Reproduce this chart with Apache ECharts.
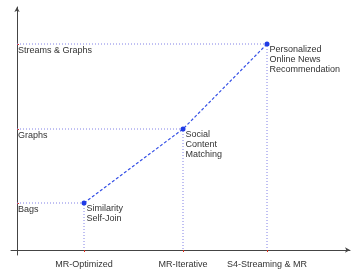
<!DOCTYPE html>
<html><head><meta charset="utf-8">
<script src="https://cdn.jsdelivr.net/npm/echarts@6/dist/echarts.min.js"></script>
<style>html,body{margin:0;padding:0;background:#fff}#c{width:353px;height:272px}</style>
</head><body><div id="c"></div>
<script>
var xCategories = ['MR-Optimized', 'MR-Iterative', 'S4-Streaming & MR'];
var xPositions = [0.67, 1.66, 2.50];
var yCategories = ['Bags', 'Graphs', 'Streams & Graphs'];
var yPositions = [0.47, 1.21, 2.06];
var pointLabels = ['Similarity\nSelf-Join', 'Social\nContent\nMatching', 'Personalized\nOnline News\nRecommendation'];

var FONT = 'Liberation Sans';
function nearestName(v, pos, names) {
  var best = 0;
  for (var i = 1; i < pos.length; i++) if (Math.abs(pos[i] - v) < Math.abs(pos[best] - v)) best = i;
  return names[best];
}

var series = [];
for (var i = 0; i < xPositions.length; i++) {
  series.push({
    type: 'line', silent: true, symbol: 'none', z: 1,
    data: [[0, yPositions[i]], [xPositions[i], yPositions[i]], [xPositions[i], 0]],
    lineStyle: { color: '#8080e6', width: 1, type: [1, 2] }
  });
}
var mainData = xPositions.map(function (x, i) {
  return { value: [x, yPositions[i]], label: { formatter: pointLabels[i] } };
});
series.push({
  type: 'line', z: 3, data: mainData,
  symbol: 'circle', symbolSize: 5,
  itemStyle: { color: '#1f3be6' },
  lineStyle: { color: '#3550e6', width: 1.2, type: [3, 2] },
  label: {
    show: true, position: [5, 3], align: 'left', verticalAlign: 'top',
    color: '#333', fontFamily: FONT, fontSize: 9, lineHeight: 10
  }
});

var chart = echarts.init(document.getElementById('c'));
chart.setOption({
  animation: false,
  grid: { left: 11, right: 3, top: 7, bottom: 17, containLabel: false },
  xAxis: {
    type: 'value', min: -0.06, max: 3.33,
    axisLine: { onZero: true, lineStyle: { color: '#444', width: 1 }, symbol: ['none', 'arrow'], symbolSize: [4, 5] },
    axisTick: { show: true, customValues: xPositions, length: 2, lineStyle: { color: '#e03020' } },
    axisLabel: { customValues: xPositions, margin: 5, color: '#333', fontFamily: FONT, fontSize: 9,
      formatter: function (v) { return nearestName(v, xPositions, xCategories); } },
    splitLine: { show: false }
  },
  yAxis: {
    type: 'value', min: -0.05, max: 2.43,
    axisLine: { onZero: true, lineStyle: { color: '#444', width: 1 }, symbol: ['none', 'arrow'], symbolSize: [4, 5] },
    axisTick: { show: true, inside: true, customValues: yPositions, length: 2, lineStyle: { color: '#e03020' } },
    axisLabel: { customValues: yPositions, inside: true, margin: 7, align: 'left', verticalAlign: 'top',
      padding: [2, 0, 0, 0], color: '#333', fontFamily: FONT, fontSize: 9,
      formatter: function (v) { return nearestName(v, yPositions, yCategories); } },
    splitLine: { show: false }
  },
  series: series
});
</script></body></html>
